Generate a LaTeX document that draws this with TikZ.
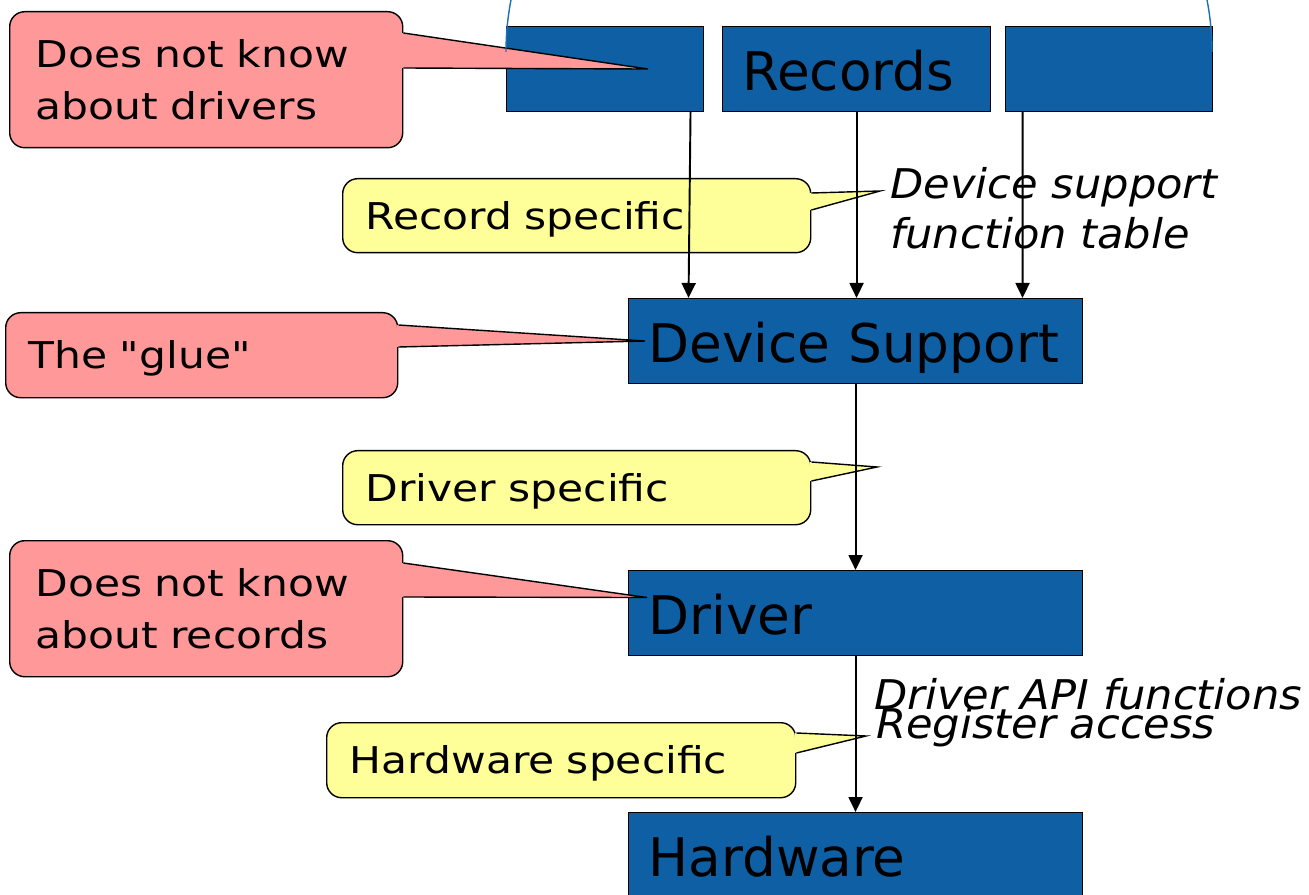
\documentclass[tikz,border=0pt]{standalone}
\usepackage{fontspec}
\setmainfont{DejaVu Sans}
\newfontfamily\notefont{DejaVu Sans}[FakeStretch=1.15]
\newfontfamily\tagfont{DejaVu Sans}[FakeStretch=1.055]
\usetikzlibrary{arrows.meta,positioning,calc}

\definecolor{layerblue}{RGB}{14,95,163}
\definecolor{notered}{RGB}{255,153,153}
\definecolor{noteyellow}{RGB}{255,255,153}
\definecolor{arcblue}{RGB}{30,110,180}

\tikzset{
  layer/.style={draw=black, line width=0.6pt, fill=layerblue, anchor=north west,
    minimum height=17mm, inner xsep=4mm, text width=#1, align=left,
    text height=8.4mm, text depth=0pt, font=\fontsize{30.3}{36}\selectfont},
  note/.style={draw=black, line width=0.8pt, rounded corners=3mm, anchor=north west,
    inner xsep=4.6mm, align=left, font=\notefont\fontsize{21}{29.5}\selectfont},
  red note/.style={note, fill=notered},
  yellow note/.style={note, fill=noteyellow, text width=84.4mm, minimum height=14.8mm,
    text height=5.4mm, text depth=0pt},
  tag/.style={anchor=base west, inner sep=0pt, align=left,
    font=\tagfont\itshape\fontsize{23.3}{29}\selectfont},
  flow/.style={line width=1.1pt, -{Triangle[length=3mm,width=2.8mm]}},
  pointer/.style={line width=0.8pt},
}

\begin{document}
\begin{tikzpicture}[x=0.2mm, y=-0.2mm]
  \clip (0,0) rectangle (1309,895);

  % the layers
  \node[layer=31.4mm] (rec1) at (506,26) {};
  \node[layer=45.6mm] (rec2) at (722,26) {Records};
  \node[layer=33.4mm] (rec3) at (1005,26) {};
  \node[layer=82.8mm] (devsup) at (628,298) {Device Support};
  \node[layer=82.8mm] (driver) at (628,570) {Driver};
  \node[layer=82.8mm] (hw) at (628,812) {Hardware};

  % callouts
  \node[red note, inner xsep=5.2mm, text width=68.2mm, minimum height=27.2mm] (nodrv) at (9,11) {Does not know\\about drivers};
  \node[yellow note] (recspec) at (342,178) {Record specific};
  \node[red note, text width=69.2mm, minimum height=17mm, text height=5.4mm, text depth=0pt] (glue) at (5,312) {The "glue"};
  \node[yellow note] (drvspec) at (342,450) {Driver specific};
  \node[red note, inner xsep=5.2mm, text width=68.2mm, minimum height=27.2mm] (norec) at (9,540) {Does not know\\about records};
  \node[yellow note, text width=84.6mm, minimum height=15mm] (hwspec) at (326,722) {Hardware specific};

  % where the callouts point to
  \coordinate (nodrvtip) at ([xshift=28.4mm]rec1.west);
  \coordinate (gluetip) at ([xshift=3.4mm]devsup.west);
  \coordinate (norectip) at ([xshift=3.8mm,yshift=3.1mm]driver.west);
  \coordinate (recspectip) at (880,191);
  \coordinate (drvspectip) at (877,467);
  \coordinate (hwspectip) at (866,736);

  \foreach \n/\a/\b/\c in {nodrv/4.4mm/11.4mm/notered, glue/2.6mm/7mm/notered,
      norec/4.6mm/11.4mm/notered, recspec/3mm/6.4mm/noteyellow,
      drvspec/2.4mm/6.2mm/noteyellow, hwspec/2.2mm/6.2mm/noteyellow} {
    \fill[\c] ([xshift=-1pt,yshift=-\a]\n.north east) -- (\n tip)
      -- ([xshift=-1pt,yshift=-\b]\n.north east) -- cycle;
    \draw[pointer] ([yshift=-\a]\n.north east) -- (\n tip) -- ([yshift=-\b]\n.north east);
  }

  % calls going down
  \draw[flow] ([xshift=17.1mm]rec1.south) -- ([xshift=-33.4mm]devsup.north);
  \draw[flow] (rec2.south) -- (rec2.south |- devsup.north);
  \draw[flow] ([xshift=-17.3mm]rec3.south) -- ([xshift=33.4mm]devsup.north);
  \draw[flow] (devsup) -- (driver);
  \draw[flow] (driver) -- (hw);

  % brace over the records
  \draw[arcblue, line width=0.8pt] (506,52) arc[start angle=180, end angle=360, x radius=353, y radius=309];

  % interface names
  \node[tag] (dstable) at (890,249) {Device support\\function table};
  \node[tag] (api) at (874,709) {Driver API functions};
  \node[tag] (regacc) at (876,738) {Register access};
\end{tikzpicture}
\end{document}
